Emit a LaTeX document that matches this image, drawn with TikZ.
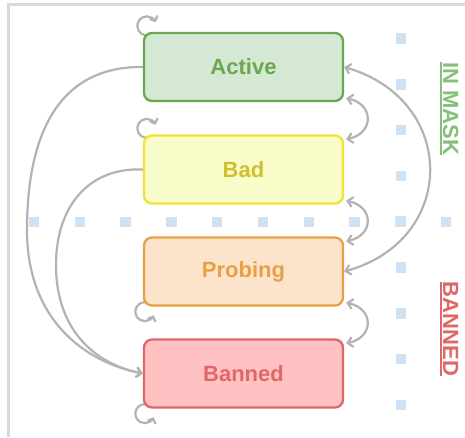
\documentclass[tikz,border=0pt]{standalone}
\usepackage{fontspec}
\setmainfont{Liberation Sans}
\usetikzlibrary{arrows.meta,calc}
\pgfdeclarelayer{background}
\pgfsetlayers{background,main}
\definecolor{actF}{HTML}{D5E8D4}\definecolor{actS}{HTML}{6AA84F}
\definecolor{badF}{HTML}{F8FCC8}\definecolor{badS}{HTML}{F2E233}\definecolor{badT}{HTML}{CFC02C}
\definecolor{prbF}{HTML}{FCE4CC}\definecolor{prbS}{HTML}{E8A043}
\definecolor{banF}{HTML}{FFC1C1}\definecolor{banS}{HTML}{E06767}
\definecolor{maskT}{HTML}{84C07A}
\definecolor{dotC}{HTML}{CFE2F3}
\definecolor{gry}{HTML}{B3B3B3}
\definecolor{frm}{HTML}{D9D9D9}
\newcommand\myul[1]{\setbox0=\hbox{#1}\rlap{\rule[-3.6pt]{\wd0}{2pt}}\box0}
\begin{document}
\begin{tikzpicture}[x=1pt,y=-1pt,
  box/.style={draw, line width=2.3pt, rounded corners=8pt, minimum width=199pt, minimum height=68pt,
    font=\fontsize{22}{26}\selectfont\bfseries},
  conn/.style={draw=gry, line width=2.2pt, -{Straight Barb[length=5pt,width=10pt]}},
  conn2/.style={draw=gry, line width=2.2pt, {Straight Barb[length=5pt,width=10pt]}-{Straight Barb[length=5pt,width=10pt]}},
  loopc/.style={draw=gry, line width=2.2pt, -{Straight Barb[length=4pt,width=8.5pt]}},
  dotsq/.style={fill=dotC, minimum size=10.5pt, inner sep=0pt},
  lbl/.style={rotate=-90, inner sep=0pt, font=\fontsize{22}{26}\selectfont\bfseries}]
\useasboundingbox (0,0) rectangle (465,437);
\draw[frm, line width=2.5pt] (8.5,437) -- (8.5,4.5) -- (465,4.5);
% dots
\foreach \k in {0,...,8} \node[dotsq] (dv\k) at (401,38.5+45.8*\k) {};
\foreach \k in {0,...,9} \node[dotsq] (dh\k) at (34+45.8*\k,222) {};
% states
\node[box, fill=actF, draw=actS, text=actS] (act) at (243.5,67) {Active};
\node[box, fill=badF, draw=badS, text=badT] (bad) at (243.5,169.5) {Bad};
\node[box, fill=prbF, draw=prbS, text=prbS] (prb) at (243.5,271.5) {Probing};
\node[box, fill=banF, draw=banS, text=banS] (ban) at (243.5,373.5) {Banned};
% labels
\node[lbl, text=maskT] (mask) at (449,108.5) {\myul{IN MASK}};
\node[lbl, text=banS] (bnd) at (449,329) {\myul{BANNED}};
% left curves
\draw[conn] (act.west) .. controls (55,66) and (27,140) .. (27,230)
  .. controls (27,320) and (85,362) .. (ban.west);
\draw[conn] (bad.west) .. controls (90,167) and (56,205) .. (56,265)
  .. controls (56,330) and (95,364) .. (ban.west);
% right arcs
\draw[conn2] (act.east) .. controls (458,100) and (458,240) .. (prb.east);
\draw[conn2] ([shift={(2,-4)}]act.south east) .. controls +(28,6) and +(28,-6) .. ([shift={(2,5)}]bad.north east);
\draw[conn2] ([shift={(2,-4)}]bad.south east) .. controls +(28,6) and +(28,-6) .. ([shift={(2,5)}]prb.north east);
\draw[conn2] ([shift={(2,-4)}]prb.south east) .. controls +(28,6) and +(28,-6) .. ([shift={(2,5)}]ban.north east);
% self loops (behind the boxes)
\begin{pgfonlayer}{background}
\fill[white] (0,0) rectangle (465,437);
\draw[loopc] ([shift={(4,-6)}]act.north west) ++(60:9.5) arc[start angle=60, end angle=338, radius=9.5];
\draw[loopc] ([shift={(4,-6)}]bad.north west) ++(60:9.5) arc[start angle=60, end angle=338, radius=9.5];
\draw[loopc] ([shift={(2,5)}]prb.south west) ++(300:9.5) arc[start angle=300, end angle=22, radius=9.5];
\draw[loopc] ([shift={(2,5)}]ban.south west) ++(300:9.5) arc[start angle=300, end angle=22, radius=9.5];
\end{pgfonlayer}
\end{tikzpicture}
\end{document}
